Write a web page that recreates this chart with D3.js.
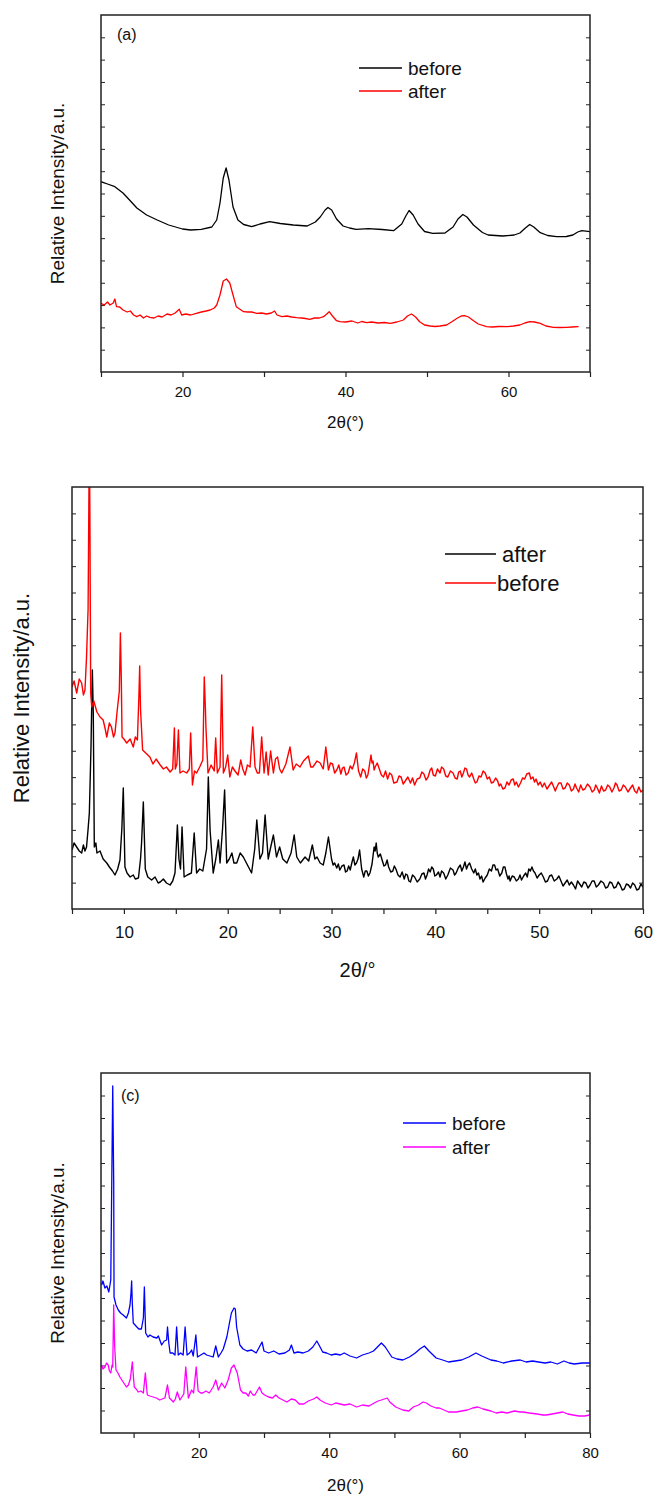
<!DOCTYPE html>
<html>
<head>
<meta charset="utf-8">
<script src="https://cdn.jsdelivr.net/npm/d3@7"></script>
<style>
  body { margin: 0; background: #fff; }
  svg { display: block; }
  text { font-family: "Liberation Sans", Arial, sans-serif; fill: #111; }
</style>
</head>
<body>
<div id="chart"></div>
<script>
const width = 657;
const height = 1499;

// ---- panel (a): [2theta, intensity a.u.] ----
const beforeA = [[10,190.3],[10.8,188],[11.7,185.3],[12.7,179],[13.5,172],[14.4,164],[15.6,157],[16.9,152],[18.3,147],[20,143],[21,142],[22.3,142.7],[23.6,145],[24.2,152],[24.6,169],[25,194],[25.35,204],[25.7,192],[26.2,165],[26.8,152],[27.5,147.5],[28.5,145.3],[29.5,148],[30.7,150.3],[32,148.5],[33.6,147],[35.3,146],[36.3,150],[36.9,155],[37.5,162],[37.85,164.5],[38.3,162],[38.9,153],[39.7,146],[40.5,144],[41.3,142.7],[42.8,143.3],[44.5,142.5],[45.9,141.3],[46.9,148],[47.4,156],[47.8,161.5],[48.3,157],[48.9,148],[49.7,140.5],[50.7,138.7],[52.2,139],[53.2,145],[53.8,153],[54.4,157.5],[54.9,155],[55.7,147],[56.8,139.5],[57.5,137],[59.3,136],[60.7,137],[61.4,139],[62,143.5],[62.6,147.5],[63.1,145],[63.9,139.3],[64.8,136.5],[65.9,135.3],[67.1,135.5],[67.9,137],[68.5,140],[69,141.3],[70,140.3]];
const afterA = [[10,68.7],[10.4,67],[10.8,70],[11.1,67],[11.5,69],[11.7,73],[11.9,65.3],[12.3,65],[12.7,62],[13.2,60],[13.6,61],[14,57],[14.4,55.3],[14.8,57],[15.2,54],[15.6,56],[16,54.7],[16.5,54],[17,56],[17.5,55],[18.1,58],[18.6,57],[19.1,59],[19.6,62.7],[19.9,57],[20.4,58],[21,57],[21.7,58.7],[22.3,60],[22.9,61],[23.4,62],[23.9,64],[24.2,67],[24.6,77],[25,91],[25.4,93],[25.8,89],[26.2,77],[26.6,65.3],[27,63],[27.5,60.3],[28,60],[28.5,60],[29.1,58.7],[29.7,59],[30.3,58],[30.9,59],[31.3,61],[31.6,57],[32.2,55.3],[32.8,56],[33.4,55],[34,54.3],[34.6,54],[35.1,53.5],[35.6,52.7],[36.2,54],[36.8,54],[37.3,55.3],[37.7,58],[38,60.3],[38.4,56],[38.9,51.3],[39.3,50.3],[40,50],[40.8,51],[41.5,49],[42,50.5],[42.6,49.3],[43.2,50],[44,49],[44.8,49.5],[45.5,48.7],[46.3,50],[47.1,52],[47.6,56],[48.1,58],[48.6,55],[49.1,50.3],[49.7,47],[50.4,46],[51,45.5],[51.6,46],[52.4,47],[53,50],[53.7,53.7],[54.2,56],[54.6,56.3],[55.1,55],[55.7,51.3],[56.3,48],[57.3,45.3],[58,45],[58.8,45.5],[59.8,45.3],[60.6,46],[61.4,47],[62,49],[62.6,50.3],[63.2,50],[63.9,48.7],[64.6,46],[65.5,44.7],[66.3,44.5],[67.1,44.7],[67.8,45],[68.6,45.3]];

// ---- panel (b) ----
const afterB = [[5,59],[5.2,66],[5.45,62],[5.7,58],[5.93,56],[6.1,64],[6.25,58],[6.4,62],[6.55,80],[6.67,96],[6.83,162],[6.96,239],[7.05,196],[7.15,62],[7.3,66],[7.4,56],[7.7,58],[8,50],[8.35,46],[8.6,42],[8.9,38],[9.14,34],[9.4,40],[9.62,49],[9.8,80],[9.94,121],[10.1,42],[10.3,36],[10.6,32],[10.9,34],[11.1,30],[11.4,31],[11.6,50],[11.7,66],[11.87,107],[12.06,40],[12.3,32],[12.67,29],[13,32],[13.3,26],[13.5,27],[13.8,30],[14.1,26],[14.45,24],[14.7,28],[14.92,36],[15.15,84],[15.3,50],[15.45,40],[15.6,82],[15.8,32],[16.1,34],[16.5,36],[16.77,76],[17,36],[17.3,40],[17.6,38],[17.96,60],[18.13,132],[18.3,79],[18.6,36],[18.85,50],[19.1,69],[19.26,46],[19.5,80],[19.7,119],[19.9,46],[20.15,50],[20.4,56],[20.6,46],[20.87,46],[21.2,56],[21.5,52],[21.9,44],[22.3,36],[22.6,60],[22.8,89],[23.1,50],[23.35,56],[23.6,94],[23.9,50],[24.1,60],[24.4,74],[24.7,52],[25,62],[25.3,50],[25.7,46],[26.1,56],[26.4,74],[26.65,52],[27,46],[27.45,52],[27.8,48],[28.15,64],[28.4,50],[28.6,52],[28.9,46],[29.2,44],[29.45,56],[29.7,72],
  [30,50],[30.15,44],[30.3,46],[30.5,41],[30.65,45],[30.8,39],[31,43],[31.2,44],[31.35,37],[31.5,38],[31.65,43],[31.8,39],[31.95,46],[32.1,52],[32.25,44],[32.4,46],[32.55,50],[32.7,59],[32.9,40],[33.1,32],[33.25,38],[33.4,38],[33.55,33],[33.7,36],[33.9,45],[34.1,62],[34.2,58],[34.3,66],[34.4,56],[34.5,52],[34.7,55],[34.9,48],[35.05,43],[35.2,44],[35.35,49],[35.5,42],[35.7,37],[35.9,38],[36.05,43],[36.2,40],[36.4,34],[36.6,32],[36.8,37],[37,30],[37.15,35],[37.3,34],[37.45,28],[37.6,27],[37.8,34],[38,32],[38.25,27],[38.5,30],[38.7,35],[38.9,36],[39.05,30],[39.2,34],[39.35,40],[39.5,37],[39.65,42],[39.8,40],[39.95,33],[40.1,34],[40.3,37],[40.45,32],[40.6,38],[40.8,36],[41,30],[41.2,34],[41.45,41],[41.7,39],[41.85,34],[42,36],[42.2,41],[42.4,44],[42.55,38],[42.7,42],[42.85,47],[43,40],[43.15,44],[43.3,46],[43.5,40],[43.7,36],[43.85,40],[44,34],[44.15,36],[44.3,30],[44.45,33],[44.6,27],[44.8,31],[45,34],[45.2,40],[45.4,38],[45.55,44],[45.7,44],[45.85,39],[46,40],[46.2,33],[46.4,36],[46.55,42],[46.7,42],[46.85,35],[47,30],[47.1,33],[47.2,28],[47.4,33],[47.6,32],[47.8,28],[48,30],[48.15,34],[48.3,29],[48.5,33],[48.7,36],[48.85,32],[49,40],[49.15,38],[49.3,42],[49.45,38],[49.6,36],[49.8,31],[50,34],[50.2,36],[50.4,32],[50.6,27],[50.8,28],[51,33],[51.2,34],[51.45,28],[51.7,30],[51.9,33],[52.1,28],[52.3,23],[52.5,26],[52.7,29],[52.9,24],[53.1,27],[53.3,24],[53.5,20],[53.7,28],[53.9,25],[54.1,22],[54.3,27],[54.5,26],[54.7,21],[54.9,24],[55.1,28],[55.3,28],[55.5,22],[55.7,24],[55.95,28],[56.2,26],[56.4,21],[56.6,22],[56.8,27],[57,26],[57.2,21],[57.4,22],[57.6,27],[57.8,24],[58,19],[58.2,20],[58.4,25],[58.6,24],[58.8,21],[59,26],[59.2,24],[59.4,19],[59.6,20],[59.8,25],[60,22]];
const beforeB = [[5,222],[5.2,228],[5.45,216],[5.7,230],[5.93,226],[6.1,214],[6.25,219],[6.4,252],[6.55,300],[6.62,400],[6.67,470],[6.72,400],[6.8,216],[6.9,202],[7.1,208],[7.4,197],[7.7,192],[8,189],[8.2,180],[8.35,172],[8.6,186],[8.8,182],[9,172],[9.14,176],[9.36,199],[9.56,218],[9.66,276],[9.75,230],[9.82,172],[10,170],[10.27,166],[10.6,170],[10.9,162],[11.1,172],[11.3,169],[11.45,215],[11.52,243],[11.6,200],[11.8,159],[12.1,156],[12.5,152],[12.8,145],[13.1,150],[13.5,144],[13.8,140],[14.1,142],[14.45,137],[14.7,140],[14.86,181],[14.95,140],[15.1,145],[15.25,179],[15.4,136],[15.7,138],[16.05,136],[16.3,140],[16.43,176],[16.6,124],[16.8,138],[17,136],[17.3,142],[17.6,149],[17.74,232],[17.85,200],[17.9,182],[18.1,136],[18.4,144],[18.7,138],[18.84,171],[19,136],[19.26,142],[19.42,234],[19.58,136],[19.8,142],[20,154],[20.2,132],[20.45,142],[20.7,138],[21,134],[21.25,149],[21.45,140],[21.67,134],[21.9,144],[22.15,142],[22.41,182],[22.63,142],[22.85,136],[23.05,136],[23.27,172],[23.5,136],[23.7,157],[23.9,134],[24.13,158],[24.4,136],[24.6,150],[24.8,152],[25,140],[25.2,136],[25.6,145],[26,162],[26.3,139],[26.6,145],[26.96,142],[27.3,148],[27.76,153],[28,142],[28.2,142],[28.6,148],[28.9,146],[29.2,140],[29.45,162],
  [29.7,139],[29.9,146],[30.1,145],[30.3,136],[30.5,139],[30.7,144],[30.9,135],[31.05,141],[31.2,142],[31.4,134],[31.6,136],[31.8,143],[32,140],[32.2,146],[32.4,156],[32.6,138],[32.8,132],[33,140],[33.2,138],[33.35,131],[33.5,134],[33.65,144],[33.8,154],[33.9,146],[34,148],[34.1,139],[34.2,142],[34.4,146],[34.6,140],[34.8,134],[35,132],[35.2,138],[35.4,130],[35.6,136],[35.8,134],[36,126],[36.3,127],[36.5,133],[36.7,132],[36.9,125],[37.1,128],[37.35,132],[37.6,126],[37.8,131],[38,124],[38.25,130],[38.5,131],[38.7,137],[38.9,135],[39.1,129],[39.3,132],[39.5,139],[39.65,141],[39.8,134],[40,133],[40.2,140],[40.45,136],[40.6,142],[40.8,140],[41,133],[41.2,132],[41.45,138],[41.7,136],[41.9,131],[42.1,130],[42.25,137],[42.4,138],[42.55,132],[42.7,136],[42.85,141],[43,140],[43.15,134],[43.3,132],[43.5,136],[43.7,130],[43.85,126],[44,127],[44.2,133],[44.4,132],[44.6,138],[44.8,136],[45,130],[45.2,132],[45.4,126],[45.6,127],[45.8,131],[46,128],[46.15,123],[46.3,125],[46.5,120],[46.7,121],[46.9,127],[47.1,124],[47.3,129],[47.5,130],[47.65,124],[47.8,127],[48,122],[48.2,126],[48.4,131],[48.6,130],[48.8,135],[49.05,136],[49.2,130],[49.4,132],[49.55,127],[49.7,130],[49.9,124],[50.1,127],[50.3,122],[50.5,126],[50.75,120],[51,124],[51.2,127],[51.4,122],[51.55,118],[51.7,122],[51.9,126],[52.1,126],[52.3,120],[52.5,121],[52.7,126],[52.9,124],[53.1,118],[53.3,120],[53.45,125],[53.6,121],[53.8,117],[54,124],[54.2,119],[54.4,120],[54.65,125],[54.9,122],[55.1,117],[55.3,119],[55.45,124],[55.6,121],[55.8,116],[56,123],[56.2,118],[56.4,119],[56.6,124],[56.8,122],[57,117],[57.2,121],[57.35,126],[57.5,124],[57.7,118],[57.9,119],[58.1,124],[58.3,122],[58.55,117],[58.8,121],[59,124],[59.2,118],[59.4,116],[59.6,122],[59.8,117],[60,119]];

// ---- panel (c) ----
const beforeC = [[5.1,148],[5.3,152],[5.6,145],[5.9,147],[6.2,141],[6.5,153],[6.65,250],[6.8,347],[6.95,250],[7,136],[7.3,128],[7.65,123],[8,120],[8.4,118],[8.9,115],[9.2,120],[9.45,128],[9.6,140],[9.7,152],[9.8,130],[9.95,110],[10.5,106],[10.8,104],[11.2,104],[11.5,115],[11.65,146],[11.85,100],[12.2,96],[12.5,98],[13,96],[13.55,95],[13.8,97],[14.3,88],[14.7,92],[15.06,93],[15.2,106],[15.4,90],[15.6,80],[16,80],[16.35,78],[16.6,106],[16.85,78],[17.2,80],[17.6,78],[17.9,106],[18.2,78],[18.6,80],[18.9,83],[19.15,77],[19.55,98],[19.8,76],[20.3,78],[20.8,80],[21.2,78],[21.7,77],[22.2,76],[22.6,87],[23,76],[23.4,80],[23.75,84],[24.3,96],[24.7,110],[25,120],[25.4,125],[25.6,124],[25.8,106],[26.3,88],[26.8,84],[27.4,82],[28.1,83],[28.8,80],[29.7,91],[30,82],[30.7,80],[31.5,82],[32.3,79],[33.2,80],[33.9,83],[34.2,88],[34.6,80],[35.2,81],[36,80],[36.8,82],[37.5,86],[38.1,92],[38.6,86],[39,81],[39.6,80],[40.3,78],[41,79],[41.7,78],[42.3,80],[43.2,77],[44.2,75],[45.1,78],[46.1,80],[46.8,82],[47.4,86],[48,90],[48.6,86],[49.6,76],[50.4,74],[51.3,73],[52.3,76],[53.2,80],[53.9,84],[54.6,87],[55.3,82],[56.4,75],[57.4,73],[58.3,71],[59.3,72],[60.3,73],[61.4,76],[62.5,80],[63.4,77],[64.8,73],[65.7,72],[66.7,70],[68,72],[69.3,73],[70.2,71],[71.2,72],[72.1,71],[73.1,70],[74,71],[75,69],[76,72],[76.8,70],[77.6,69],[78.8,70],[80,70]];
const afterC = [[5.1,68],[5.3,64],[5.6,66],[5.85,70],[6.1,68],[6.3,62],[6.5,60],[6.7,68],[6.8,66],[6.95,128],[7.1,86],[7.3,63],[7.6,60],[7.9,56],[8.3,52],[8.9,46],[9.2,48],[9.5,54],[9.8,71],[10.1,46],[10.4,44],[10.7,41],[11.1,42],[11.5,40],[11.8,60],[12.1,38],[12.5,37],[13,36],[13.5,35],[14,33],[14.4,34],[14.8,35],[15.2,48],[15.5,35],[16.1,31],[16.4,34],[16.7,41],[17.1,33],[17.4,36],[17.7,39],[18,66],[18.4,35],[18.9,43],[19.2,40],[19.6,66],[19.9,42],[20.3,40],[20.6,40],[21.1,42],[21.6,40],[22.2,46],[22.6,53],[23,43],[23.5,50],[24,45],[24.5,53],[25,65],[25.4,68],[25.9,60],[26.4,43],[26.8,40],[27.2,40],[27.6,37],[27.9,42],[28.3,38],[28.6,38],[29.3,46],[29.7,40],[30.1,38],[30.7,36],[31.3,35],[31.8,38],[32.3,35],[32.9,33],[33.5,31],[34.2,34],[34.8,33],[35.4,29],[36.1,29],[36.8,32],[37.6,34],[38.1,36],[38.6,33],[39.4,30],[40.3,28],[41,30],[41.7,29],[42.3,28],[43.2,29],[44.2,26],[45.1,28],[46.1,27],[46.9,30],[47.5,32],[48,33],[48.9,35],[49.3,31],[50.2,26],[51.3,23],[52.2,22],[52.9,26],[53.7,28],[54.4,31],[54.9,30],[55.6,27],[56.4,25],[56.9,25],[57.6,23],[58.3,21],[59.5,21],[60.3,22],[61.2,23],[62,25],[62.8,26],[63.6,24],[64.8,22],[65.6,20],[66.5,21],[67.3,20],[68.4,22],[69.3,21],[69.7,21],[70.7,20],[71.9,19],[72.8,18],[73.3,18],[74.2,19],[75,20],[75.8,21],[76.6,19],[77.4,18],[78.3,17],[79.2,17],[80,18]];

// tick labels
const ticksA = [20, 40, 60];
const minorA = [10, 30, 50, 70];
const ticksB = [10, 20, 30, 40, 50, 60];
const minorB = [5, 15, 25, 35, 45, 55];
const ticksC = [20, 40, 60, 80];
const minorC = [10, 30, 50, 70];

const svg = d3.select("#chart")
    .append("svg")
    .attr("width", width)
    .attr("height", height);

function drawPanel(o) {
    const x = d3.scaleLinear().domain(o.xDomain).range([o.left, o.right]);
    const y = d3.scaleLinear().domain([0, o.yMax]).range([o.bottom, o.top]);
    const g = svg.append("g");

    g.append("clipPath").attr("id", "clip-" + o.id)
        .append("rect")
        .attr("x", o.left).attr("y", o.top)
        .attr("width", o.right - o.left).attr("height", o.bottom - o.top);

    // x axis, labelled ticks + unlabelled ticks, pointing out
    const xa = g.append("g")
        .attr("transform", `translate(0,${o.bottom})`)
        .call(d3.axisBottom(x).tickValues(o.ticks).tickSize(5).tickPadding(o.pad).tickFormat(d3.format("d")));
    xa.append("g").call(d3.axisBottom(x).tickValues(o.minor).tickSize(5).tickFormat(""));
    xa.selectAll(".domain").remove();
    xa.selectAll("text").attr("font-size", o.tickFont).attr("font-family", "Liberation Sans, Arial, sans-serif").attr("fill", "#111");
    xa.selectAll("line").attr("stroke", "#222").attr("stroke-width", 1.2);

    // y ticks inside, no labels
    const yVals = d3.range(1, 16).map(i => i * o.yMax / 16);
    const yl = g.append("g").attr("transform", `translate(${o.left},0)`)
        .call(d3.axisLeft(y).tickValues(yVals).tickSize(-4).tickFormat(""));
    const yr = g.append("g").attr("transform", `translate(${o.right},0)`)
        .call(d3.axisRight(y).tickValues(yVals).tickSize(-4).tickFormat(""));
    [yl, yr].forEach(a => {
        a.selectAll(".domain").remove();
        a.selectAll("line").attr("stroke", "#222").attr("stroke-width", 1);
    });

    const line = d3.line().x(d => x(d[0])).y(d => y(d[1]));
    o.series.forEach(s => {
        g.append("path")
            .datum(s.data)
            .attr("clip-path", `url(#clip-${o.id})`)
            .attr("fill", "none")
            .attr("stroke", s.color)
            .attr("stroke-width", o.lineWidth)
            .attr("stroke-linejoin", "round")
            .attr("d", line);
    });

    // frame
    g.append("rect")
        .attr("x", o.left).attr("y", o.top)
        .attr("width", o.right - o.left).attr("height", o.bottom - o.top)
        .attr("fill", "none").attr("stroke", "#222").attr("stroke-width", 1.5);

    // legend
    o.legend.forEach(l => {
        g.append("line")
            .attr("x1", l.x1).attr("x2", l.x2).attr("y1", l.y).attr("y2", l.y)
            .attr("stroke", l.color).attr("stroke-width", 1.3);
        g.append("text").attr("x", l.tx).attr("y", l.y + o.legendFont * 0.36)
            .attr("font-size", o.legendFont).text(l.label);
    });

    if (o.tag) {
        g.append("text").attr("x", o.tag.x).attr("y", o.tag.y)
            .attr("font-size", 16).text(o.tag.text);
    }

    // axis titles
    g.append("text")
        .attr("transform", `translate(${o.yLabelX},${(o.top + o.bottom) / 2}) rotate(-90)`)
        .attr("text-anchor", "middle")
        .attr("font-size", o.yLabelFont)
        .text("Relative Intensity/a.u.");
    g.append("text")
        .attr("x", (o.left + o.right) / 2).attr("y", o.titleY)
        .attr("text-anchor", "middle")
        .attr("font-size", o.titleFont)
        .text(o.xTitle);
}

drawPanel({
    id: "a", left: 101, right: 590, top: 15, bottom: 372,
    xDomain: [10, 70], yMax: 357, ticks: ticksA, minor: minorA,
    tickFont: 15, pad: 9, legendFont: 19, yLabelFont: 19, yLabelX: 64,
    titleFont: 17, titleY: 428, xTitle: "2θ(°)", lineWidth: 1.3,
    tag: { x: 117, y: 40, text: "(a)" },
    series: [{ data: beforeA, color: "#000" }, { data: afterA, color: "#ff0000" }],
    legend: [
        { x1: 359, x2: 402, y: 68, tx: 408, color: "#000", label: "before" },
        { x1: 359, x2: 402, y: 91, tx: 408, color: "#ff0000", label: "after" }
    ]
});

drawPanel({
    id: "b", left: 72, right: 643, top: 487, bottom: 909,
    xDomain: [5, 60], yMax: 422, ticks: ticksB, minor: minorB,
    tickFont: 17, pad: 12, legendFont: 22, yLabelFont: 22, yLabelX: 29,
    titleFont: 20, titleY: 977, xTitle: "2θ/°", lineWidth: 1.4,
    tag: null,
    series: [{ data: afterB, color: "#000" }, { data: beforeB, color: "#ff0000" }],
    legend: [
        { x1: 445, x2: 496, y: 554, tx: 502, color: "#000", label: "after" },
        { x1: 445, x2: 496, y: 583, tx: 497, color: "#ff0000", label: "before" }
    ]
});

drawPanel({
    id: "c", left: 101, right: 590, top: 1073, bottom: 1433,
    xDomain: [5, 80], yMax: 360, ticks: ticksC, minor: minorC,
    tickFont: 15, pad: 9, legendFont: 19, yLabelFont: 19, yLabelX: 64,
    titleFont: 17, titleY: 1491, xTitle: "2θ(°)", lineWidth: 1.3,
    tag: { x: 121, y: 1101, text: "(c)" },
    series: [{ data: beforeC, color: "#0000ff" }, { data: afterC, color: "#ff00ff" }],
    legend: [
        { x1: 403, x2: 446, y: 1123, tx: 452, color: "#0000ff", label: "before" },
        { x1: 403, x2: 446, y: 1147, tx: 452, color: "#ff00ff", label: "after" }
    ]
});
</script>
</body>
</html>
